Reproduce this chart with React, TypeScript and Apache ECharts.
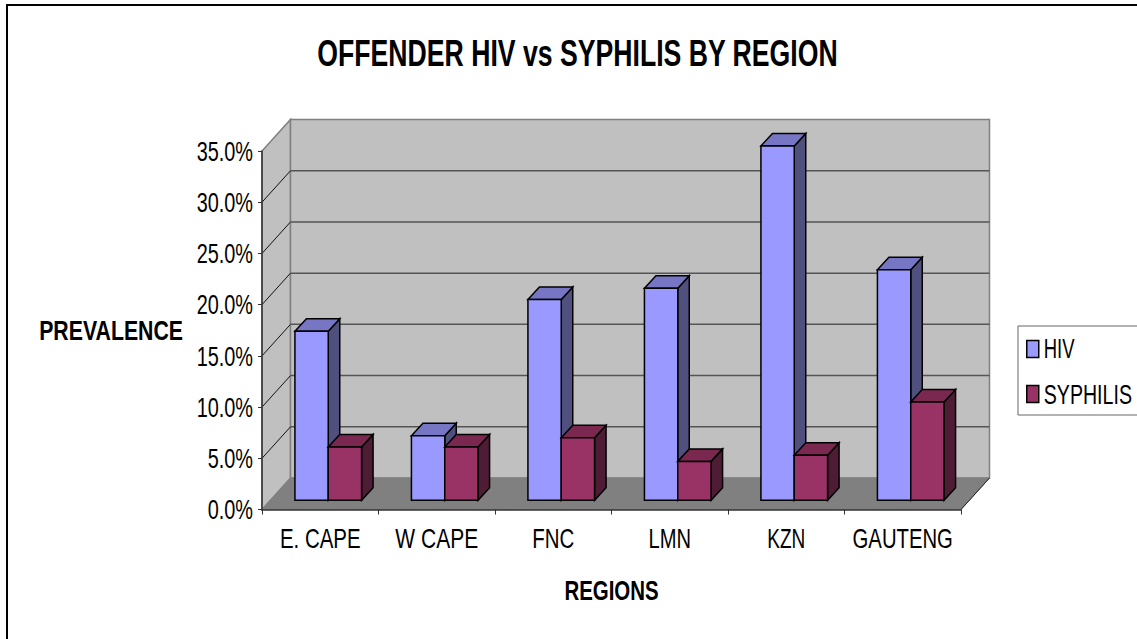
import React, { useEffect, useRef } from "react";
import * as echarts from "echarts";

const categories = ["E. CAPE", "W CAPE", "FNC", "LMN", "KZN", "GAUTENG"];
const hivValues = [16.5, 6.3, 19.6, 20.7, 34.6, 22.5];
const syphilisValues = [5.2, 5.2, 6.1, 3.8, 4.4, 9.6];
const yTicks = [0, 5, 10, 15, 20, 25, 30, 35];

const FONT = "'Liberation Sans', Arial, sans-serif";
const WALL_DX = 28.5;
const WALL_DY = -31.5;
const FLOOR_DX = 8;
const FLOOR_DY = -9.2;
const BAR_DX = 11.5;
const BAR_DY = -12.5;
const BAR_RATIO = 0.286;

// The reference's lettering is horizontally condensed; no condensed face is installed.
const DEFAULT_SQUEEZE = 0.71;
const SQUEEZE: Record<string, number> = {
  "OFFENDER HIV vs SYPHILIS BY REGION": 0.72,
  PREVALENCE: 0.76,
  REGIONS: 0.73,
  HIV: 0.66,
  SYPHILIS: 0.7,
  "E. CAPE": 0.73,
  "W CAPE": 0.75,
  FNC: 0.73,
  LMN: 0.72,
  KZN: 0.68,
  GAUTENG: 0.725,
};

function squeezeTexts(root: HTMLElement) {
  root.querySelectorAll("svg text").forEach((node) => {
    const el = node as SVGTextElement;
    const s = SQUEEZE[el.textContent || ""] ?? DEFAULT_SQUEEZE;
    const m = el.getCTM();
    if (!m) return;
    const x = parseFloat(el.getAttribute("x") || "0");
    const X = m.a * x + m.e;
    const orig = el.getAttribute("transform") || "";
    el.setAttribute("transform", `translate(${X} 0) scale(${s} 1) translate(${-X} 0) ${orig}`);
  });
}

function poly(points: number[][], fill: string, stroke: string, lineWidth: number) {
  return { type: "polygon", shape: { points }, style: { fill, stroke, lineWidth, lineJoin: "miter" } };
}

function barRenderer(side: -1 | 1, front: string, top: string, dark: string) {
  return (_params: any, api: any) => {
    const idx = api.value(0);
    const base = api.coord([idx, 0]);
    const head = api.coord([idx, api.value(1)]);
    const w = api.size([1, 0])[0] * BAR_RATIO;
    const cx = base[0] + FLOOR_DX;
    const l = side < 0 ? cx - w : cx;
    const r = l + w;
    const b = base[1] + FLOOR_DY;
    const t = head[1] + FLOOR_DY;
    return {
      type: "group",
      children: [
        poly([[r, t], [r + BAR_DX, t + BAR_DY], [r + BAR_DX, b + BAR_DY], [r, b]], dark, "#000", 1.5),
        poly([[l, t], [l + BAR_DX, t + BAR_DY], [r + BAR_DX, t + BAR_DY], [r, t]], top, "#000", 1.5),
        poly([[l, t], [r, t], [r, b], [l, b]], front, "#000", 1.5),
      ],
    };
  };
}

function wallRenderer(params: any, api: any) {
  const cs = params.coordSys;
  const x0 = cs.x;
  const x1 = cs.x + cs.width;
  const yb = cs.y + cs.height;
  const yt = cs.y;
  const children: any[] = [
    poly([[x0, yb], [x0 + WALL_DX, yb + WALL_DY], [x0 + WALL_DX, yt + WALL_DY], [x0, yt]], "#C0C0C0", "#808080", 1.5),
    poly([[x0 + WALL_DX, yb + WALL_DY], [x1 + WALL_DX, yb + WALL_DY], [x1 + WALL_DX, yt + WALL_DY], [x0 + WALL_DX, yt + WALL_DY]], "#C0C0C0", "#808080", 1.5),
    poly([[x0, yb], [x0 + WALL_DX, yb + WALL_DY], [x1 + WALL_DX, yb + WALL_DY], [x1, yb]], "#808080", "#808080", 1),
    { type: "line", shape: { x1: x1, y1: yb, x2: x1 + WALL_DX, y2: yb + WALL_DY }, style: { stroke: "#222", lineWidth: 1 } },
  ];
  yTicks.slice(1, -1).forEach((v) => {
    const y = api.coord([0, v])[1];
    children.push({ type: "line", shape: { x1: x0, y1: y, x2: x0 + WALL_DX, y2: y + WALL_DY }, style: { stroke: "#111", lineWidth: 1 } });
    children.push({ type: "line", shape: { x1: x0 + WALL_DX, y1: y + WALL_DY, x2: x1 + WALL_DX, y2: y + WALL_DY }, style: { stroke: "#555", lineWidth: 1.5 } });
  });
  return { type: "group", children };
}

export default function App() {
  const ref = useRef<HTMLDivElement>(null);
  useEffect(() => {
    document.body.style.margin = "0";
    const chart = echarts.init(ref.current!, undefined, { renderer: "svg" });
    chart.setOption({
      animation: false,
      backgroundColor: "#fff",
      title: {
        text: "OFFENDER HIV vs SYPHILIS BY REGION",
        left: 572.5,
        top: 29.5,
        textAlign: "center",
        textStyle: { fontFamily: FONT, fontWeight: "bold", fontSize: 37, color: "#000" },
      },
      legend: {
        orient: "vertical",
        left: 1018,
        top: 326,
        padding: [9, 40, 7, 8],
        itemWidth: 12,
        itemHeight: 17,
        itemGap: 17,
        borderColor: "#666",
        borderWidth: 1,
        backgroundColor: "#fff",
        data: [
          { name: "HIV", icon: "rect", itemStyle: { color: "#9999FF", borderColor: "#000", borderWidth: 1.5 } },
          { name: "SYPHILIS", icon: "rect", itemStyle: { color: "#993366", borderColor: "#000", borderWidth: 1.5 } },
        ],
        textStyle: { fontFamily: FONT, fontSize: 28, color: "#000" },
      },
      grid: { left: 262, top: 151, width: 699, height: 358.5, outerBoundsMode: "none", containLabel: false },
      xAxis: {
        type: "category",
        data: categories,
        z: 10,
        name: "REGIONS",
        nameLocation: "middle",
        nameMoveOverlap: false,
        nameGap: 66.5,
        nameTextStyle: { fontFamily: FONT, fontWeight: "bold", fontSize: 28, color: "#000" },
        axisLine: { lineStyle: { color: "#333", width: 1.5 } },
        axisTick: { show: true, length: 5, alignWithLabel: false, lineStyle: { color: "#333" } },
        axisLabel: { margin: 15, fontFamily: FONT, fontSize: 28, color: "#000", interval: 0 },
        splitLine: { show: false },
      },
      yAxis: {
        type: "value",
        min: 0,
        max: 35,
        interval: 5,
        z: 10,
        name: "PREVALENCE",
        nameLocation: "middle",
        nameMoveOverlap: false,
        nameRotate: 0,
        nameGap: 79,
        nameTextStyle: { fontFamily: FONT, fontWeight: "bold", fontSize: 28, color: "#000", align: "right", verticalAlign: "middle" },
        axisLine: { show: true, lineStyle: { color: "#333", width: 1.5 } },
        axisTick: { show: true, length: 4, lineStyle: { color: "#333" } },
        axisLabel: { margin: 9, fontFamily: FONT, fontSize: 28, color: "#000", formatter: (v: number) => v.toFixed(1) + "%" },
        splitLine: { show: false },
      },
      graphic: [
        {
          type: "polyline",
          shape: { points: [[7, 639], [7, 5], [1137, 5]] },
          style: { fill: "none", stroke: "#000", lineWidth: 2 },
          silent: true,
        },
      ],
      series: [
        { type: "custom", name: "walls", z: 1, silent: true, data: [[0, 0]], renderItem: wallRenderer, encode: { x: 0, y: 1 } },
        {
          type: "custom",
          name: "HIV",
          z: 2,
          itemStyle: { color: "#9999FF" },
          data: hivValues.map((v, i) => [i, v]),
          renderItem: barRenderer(-1, "#9999FF", "#7676C4", "#50507F"),
          encode: { x: 0, y: 1 },
        },
        {
          type: "custom",
          name: "SYPHILIS",
          z: 2,
          itemStyle: { color: "#993366" },
          data: syphilisValues.map((v, i) => [i, v]),
          renderItem: barRenderer(1, "#993366", "#7A2850", "#4F1C35"),
          encode: { x: 0, y: 1 },
        },
      ],
    });
    squeezeTexts(ref.current!);
    return () => chart.dispose();
  }, []);
  return <div ref={ref} style={{ width: 1137, height: 639, overflow: "hidden" }} />;
}
